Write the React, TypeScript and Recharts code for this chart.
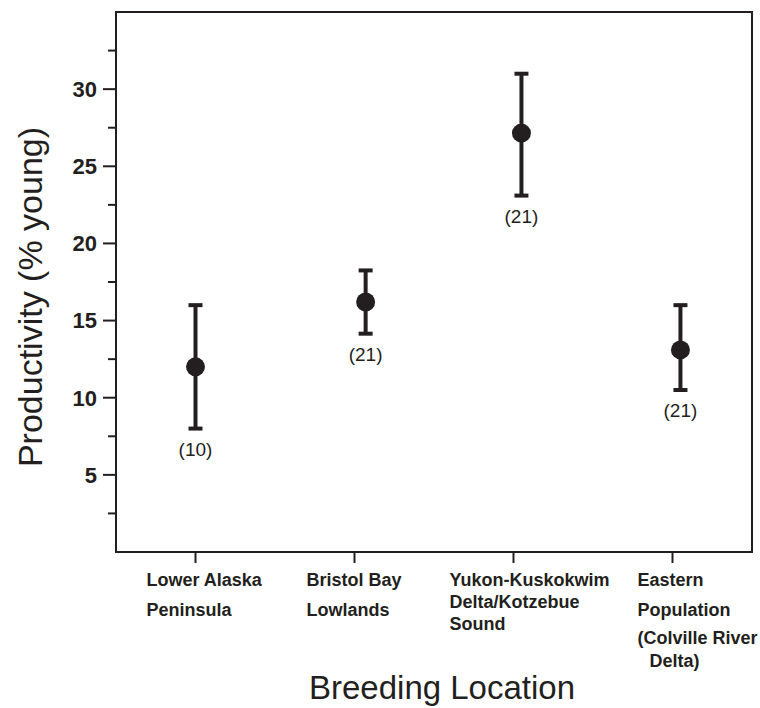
import { ScatterChart, Scatter, XAxis, YAxis, ErrorBar, ReferenceArea } from "recharts";

// print-black used for every mark in the figure
const INK = "#231f20";
const FONT = "'Liberation Sans', Arial, Helvetica, sans-serif";

const locations = [
  "Lower Alaska Peninsula",
  "Bristol Bay Lowlands",
  "Yukon-Kuskokwim Delta/Kotzebue Sound",
  "Eastern Population (Colville River Delta)",
];
const tickLabelLines = [
  ["Lower Alaska", "Peninsula"],
  ["Bristol Bay", "Lowlands"],
  ["Yukon-Kuskokwim", "Delta/Kotzebue", "Sound"],
  ["Eastern", "Population", "(Colville River", "Delta)"],
];
const tickPositions = [1, 2, 3, 4];
// the dots sit a little right of their ticks in the original
const pointPositions = [1, 2.07, 3.05, 4.05];
const productivity = [12.0, 16.2, 27.15, 13.1];
const lowerLimit = [8.0, 14.15, 23.1, 10.5];
const upperLimit = [16.0, 18.25, 31.0, 16.0];
const sampleSize = [10, 21, 21, 21];
const yMajorTicks = [5, 10, 15, 20, 25, 30];
const yMinorTicks = [2.5, 7.5, 12.5, 17.5, 22.5, 27.5, 32.5];

// layout of the multi-line category labels (left aligned blocks)
const LABEL_DX = [-49, -48, -64, -35];
const LINE_DY = [
  [34, 64],
  [34, 64],
  [34, 56, 78],
  [34, 64, 92, 115],
];
const LINE_INDENT = [[0, 0], [0, 0], [0, 0, 0], [0, 0, 0, 12]];

const points = locations.map((name, i) => ({
  name,
  x: pointPositions[i],
  y: productivity[i],
  err: [productivity[i] - lowerLimit[i], upperLimit[i] - productivity[i]],
}));

const countLabels = locations.map((name, i) => ({
  name,
  x: pointPositions[i],
  y: lowerLimit[i],
  n: sampleSize[i],
}));

const yTicks = [...yMinorTicks, ...yMajorTicks].sort((a, b) => a - b);

function XTick(props: any) {
  const { x, y, payload } = props;
  const i = tickPositions.indexOf(payload.value);
  if (i < 0) return null;
  return (
    <g>
      <line x1={x} x2={x} y1={y} y2={y + 11} stroke={INK} strokeWidth={2} />
      {tickLabelLines[i].map((t, j) => (
        <text
          key={t}
          x={x + LABEL_DX[i] + LINE_INDENT[i][j]}
          y={y + LINE_DY[i][j]}
          textAnchor="start"
          fontFamily={FONT}
          fontSize={18}
          fontWeight="bold"
          fill={INK}
        >
          {t}
        </text>
      ))}
    </g>
  );
}

function YTick(props: any) {
  const { x, y, payload } = props;
  const major = yMajorTicks.includes(payload.value);
  return (
    <g>
      <line x1={x - (major ? 13 : 8)} x2={x} y1={y} y2={y} stroke={INK} strokeWidth={2} />
      {major && (
        <text
          x={x - 19}
          y={y}
          dy="0.36em"
          textAnchor="end"
          fontFamily={FONT}
          fontSize={22}
          fontWeight="bold"
          fill={INK}
        >
          {payload.value}
        </text>
      )}
    </g>
  );
}

export default function App() {
  return (
    <div style={{ position: "absolute", left: 0, top: 0, width: 760, height: 708, background: "#fff" }}>
      <ScatterChart width={760} height={708} margin={{ top: 12, right: 8, bottom: 0, left: 0 }}>
        <XAxis
          type="number"
          dataKey="x"
          domain={[0.5, 4.5]}
          ticks={tickPositions}
          interval={0}
          allowDataOverflow
          height={156}
          tickSize={0}
          tickMargin={0}
          tickLine={false}
          axisLine={{ stroke: INK, strokeWidth: 2 }}
          tick={(p: any) => <XTick {...p} />}
          label={(p: any) => {
            const vb = p.viewBox;
            return (
              <text
                x={vb.x + vb.width / 2 + 8}
                y={vb.y + 147}
                textAnchor="middle"
                fontFamily={FONT}
                fontSize={33}
                fill={INK}
              >
                Breeding Location
              </text>
            );
          }}
        />
        <YAxis
          type="number"
          dataKey="y"
          domain={[0, 35]}
          ticks={yTicks}
          interval={0}
          allowDataOverflow
          width={116}
          tickSize={0}
          tickMargin={0}
          tickLine={false}
          axisLine={{ stroke: INK, strokeWidth: 2 }}
          tick={(p: any) => <YTick {...p} />}
          label={(p: any) => {
            const vb = p.viewBox;
            const cx = 42;
            const cy = vb.y + vb.height / 2 + 15;
            return (
              <text
                x={cx}
                y={cy}
                transform={`rotate(-90, ${cx}, ${cy})`}
                textAnchor="middle"
                fontFamily={FONT}
                fontSize={34}
                fill={INK}
              >
                Productivity (% young)
              </text>
            );
          }}
        />
        <ReferenceArea
          x1={0.5}
          x2={4.5}
          y1={0}
          y2={35}
          fill="none"
          fillOpacity={0}
          stroke={INK}
          strokeWidth={2}
          ifOverflow="visible"
        />
        <Scatter
          data={points}
          isAnimationActive={false}
          shape={(p: any) => <circle cx={p.cx} cy={p.cy} r={9.5} fill={INK} />}
        >
          <ErrorBar
            dataKey="err"
            direction="y"
            width={7}
            strokeWidth={4}
            stroke={INK}
            isAnimationActive={false}
          />
        </Scatter>
        <Scatter
          data={countLabels}
          isAnimationActive={false}
          shape={(p: any) => (
            <text
              x={p.cx}
              y={p.cy + 27}
              textAnchor="middle"
              fontFamily={FONT}
              fontSize={19}
              fill={INK}
            >
              {`(${p.payload.n})`}
            </text>
          )}
        />
      </ScatterChart>
    </div>
  );
}
